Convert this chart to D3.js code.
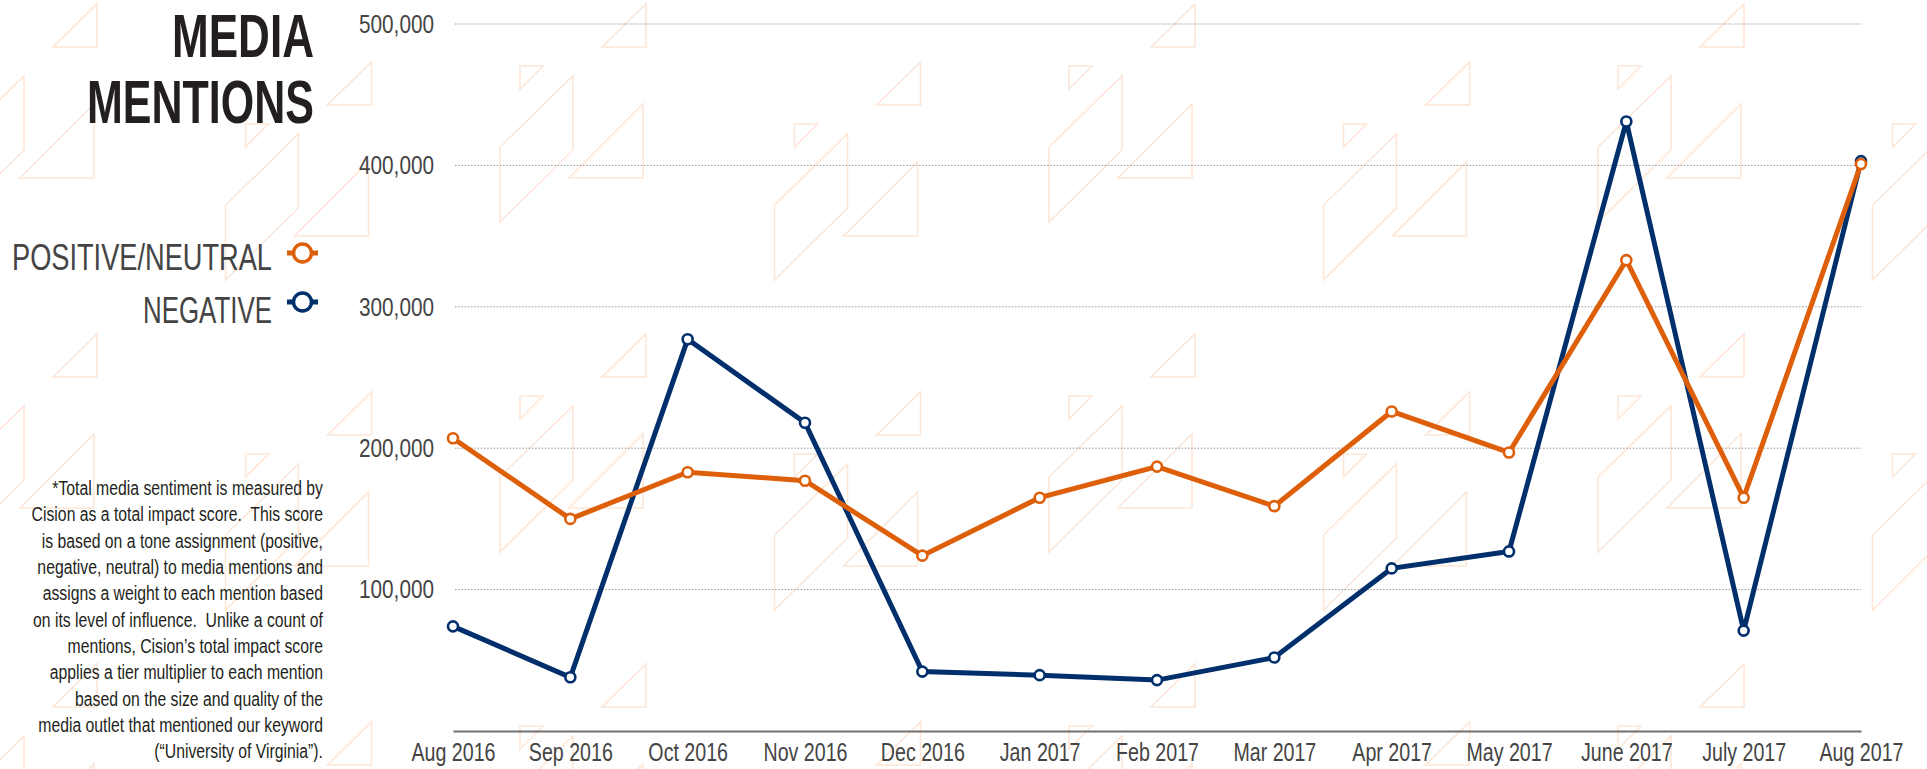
<!DOCTYPE html>
<html>
<head>
<meta charset="utf-8">
<script src="https://cdn.jsdelivr.net/npm/d3@7"></script>
<style>
  html, body { margin: 0; padding: 0; background: #ffffff; }
  svg { display: block; }
  text { font-family: "Liberation Sans Narrow", "Liberation Sans", Arial, sans-serif; }
</style>
</head>
<body>
<svg id="chart" width="1927" height="769"></svg>
<script>
// ---------------- DATA ----------------
const months = ["Aug 2016", "Sep 2016", "Oct 2016", "Nov 2016", "Dec 2016", "Jan 2017",
  "Feb 2017", "Mar 2017", "Apr 2017", "May 2017", "June 2017", "July 2017", "Aug 2017"];
const positiveNeutral = [207000, 150000, 183000, 177000, 124000, 165000, 187000,
  159000, 226000, 197000, 333000, 165000, 401000];
const negative = [74000, 38000, 277000, 218000, 42000, 39500, 36000,
  52000, 115000, 127000, 431000, 71000, 403000];
const yTicks = [100000, 200000, 300000, 400000, 500000];
const seriesNames = ["POSITIVE/NEUTRAL", "NEGATIVE"];
const titleLines = ["MEDIA", "MENTIONS"];
const footnoteLines = [
  "*Total media sentiment is measured by",
  "Cision as a total impact score.  This score",
  "is based on a tone assignment (positive,",
  "negative, neutral) to media mentions and",
  "assigns a weight to each mention based",
  "on its level of influence.  Unlike a count of",
  "mentions, Cision\u2019s total impact score",
  "applies a tier multiplier to each mention",
  "based on the size and quality of the",
  "media outlet that mentioned our keyword",
  "(\u201cUniversity of Virginia\u201d)."
];

// ---------------- STYLE / LAYOUT ----------------
const colors = { pos: "#dd5f0a", neg: "#002f6c" };
const svg = d3.select("#chart");

// condense text horizontally so that a reference string gets a target width
function condense(sel, refNode, targetWidth) {
  const f = targetWidth / refNode.getComputedTextLength();
  sel.each(function () {
    const w = this.getComputedTextLength();
    d3.select(this).attr("textLength", w * f).attr("lengthAdjust", "spacingAndGlyphs");
  });
}

// Background decorative pattern (motif geometry relative to a group origin)
const motif = [
  [[20, 66], [43, 66], [20, 89]],
  [[0, 147], [73, 76], [73, 150], [0, 222]],
  [[102, 47], [146, 47], [146, 4]],
  [[69, 178], [143, 178], [143, 104]]
];
const bg = svg.append("g").attr("class", "bg");
const tileW = 549, tileH = 330;
const origins = [];
for (let i = -2; i <= 3; i++) {
  for (let j = -1; j <= 3; j++) {
    origins.push([500 + i * tileW, j * tileH]);
    origins.push([500 + tileW / 2 + i * tileW, 58 + j * tileH]);
  }
}
origins.forEach(o => {
  motif.forEach(poly => {
    bg.append("polygon")
      .attr("points", poly.map(p => [p[0] + o[0], p[1] + o[1]].join(",")).join(" "))
      .attr("fill", "none")
      .attr("stroke", "#fde7d8")
      .attr("stroke-width", 1.6);
  });
});

// Scales
const x = d3.scalePoint().domain(months).range([453, 1861]);
const y = d3.scaleLinear().domain([0, 500000]).range([731, 24]);

// Gridlines
svg.append("g").selectAll("line").data(yTicks).join("line")
  .attr("x1", 455).attr("x2", 1861)
  .attr("y1", d => y(d)).attr("y2", d => y(d))
  .attr("stroke", "#9a9a9a").attr("stroke-width", 1)
  .attr("stroke-dasharray", "1.6,1.6");

// Y axis labels
const yAxis = svg.append("g").attr("transform", "translate(455,0)")
  .call(d3.axisLeft(y).tickValues(yTicks).tickFormat(d3.format(",")).tickSize(0).tickPadding(21));
yAxis.select(".domain").remove();
const yTexts = yAxis.selectAll("text").attr("font-size", 26).attr("fill", "#444");
condense(yTexts, yTexts.nodes()[0], 75);

// X axis
const xAxis = svg.append("g").attr("transform", "translate(0,731)")
  .call(d3.axisBottom(x).tickSize(0).tickSizeOuter(0).tickPadding(12));
xAxis.select(".domain").attr("stroke", "#707070").attr("stroke-width", 2.2);
const xTexts = xAxis.selectAll("text").attr("font-size", 26).attr("fill", "#444");
condense(xTexts, xTexts.nodes()[1], 84);

// Lines
const line = d3.line().x((d, i) => x(months[i])).y(d => y(d));
const series = [
  { key: "neg", values: negative },
  { key: "pos", values: positiveNeutral }
];
series.forEach(s => {
  const g = svg.append("g");
  g.append("path").datum(s.values)
    .attr("d", line)
    .attr("fill", "none")
    .attr("stroke", colors[s.key])
    .attr("stroke-width", 5)
    .attr("stroke-linejoin", "miter");
  g.selectAll("circle").data(s.values).join("circle")
    .attr("cx", (d, i) => x(months[i]))
    .attr("cy", d => y(d))
    .attr("r", 5)
    .attr("fill", "#fff")
    .attr("stroke", colors[s.key])
    .attr("stroke-width", 2.6);
});

// Title
const titleG = svg.append("g");
titleG.append("text").text(titleLines[0])
  .attr("x", 314).attr("y", 57).attr("text-anchor", "end")
  .attr("font-size", 62).attr("font-weight", "bold").attr("fill", "#231f20")
  .attr("textLength", 142).attr("lengthAdjust", "spacingAndGlyphs");
titleG.append("text").text(titleLines[1])
  .attr("x", 314).attr("y", 123).attr("text-anchor", "end")
  .attr("font-size", 62).attr("font-weight", "bold").attr("fill", "#231f20")
  .attr("textLength", 227).attr("lengthAdjust", "spacingAndGlyphs");

// Legend
const legend = [
  { name: seriesNames[0], color: colors.pos, ty: 270, my: 253, len: 260 },
  { name: seriesNames[1], color: colors.neg, ty: 323, my: 302, len: 129 }
];
legend.forEach(l => {
  svg.append("text").text(l.name)
    .attr("x", 272).attr("y", l.ty).attr("text-anchor", "end")
    .attr("font-size", 37).attr("fill", "#444")
    .attr("textLength", l.len).attr("lengthAdjust", "spacingAndGlyphs");
  svg.append("line").attr("x1", 287).attr("x2", 318).attr("y1", l.my).attr("y2", l.my)
    .attr("stroke", l.color).attr("stroke-width", 5);
  svg.append("circle").attr("cx", 302.5).attr("cy", l.my).attr("r", 9)
    .attr("fill", "#fff").attr("stroke", l.color).attr("stroke-width", 3.5);
});

// Footnote
const foot = svg.append("g").selectAll("text").data(footnoteLines).join("text")
  .text(d => d)
  .attr("x", 323).attr("y", (d, i) => 495 + i * 26.33)
  .attr("text-anchor", "end")
  .attr("font-size", 20).attr("fill", "#231f20")
  .style("white-space", "pre");
condense(foot, foot.nodes()[5], 290);
</script>
</body>
</html>
